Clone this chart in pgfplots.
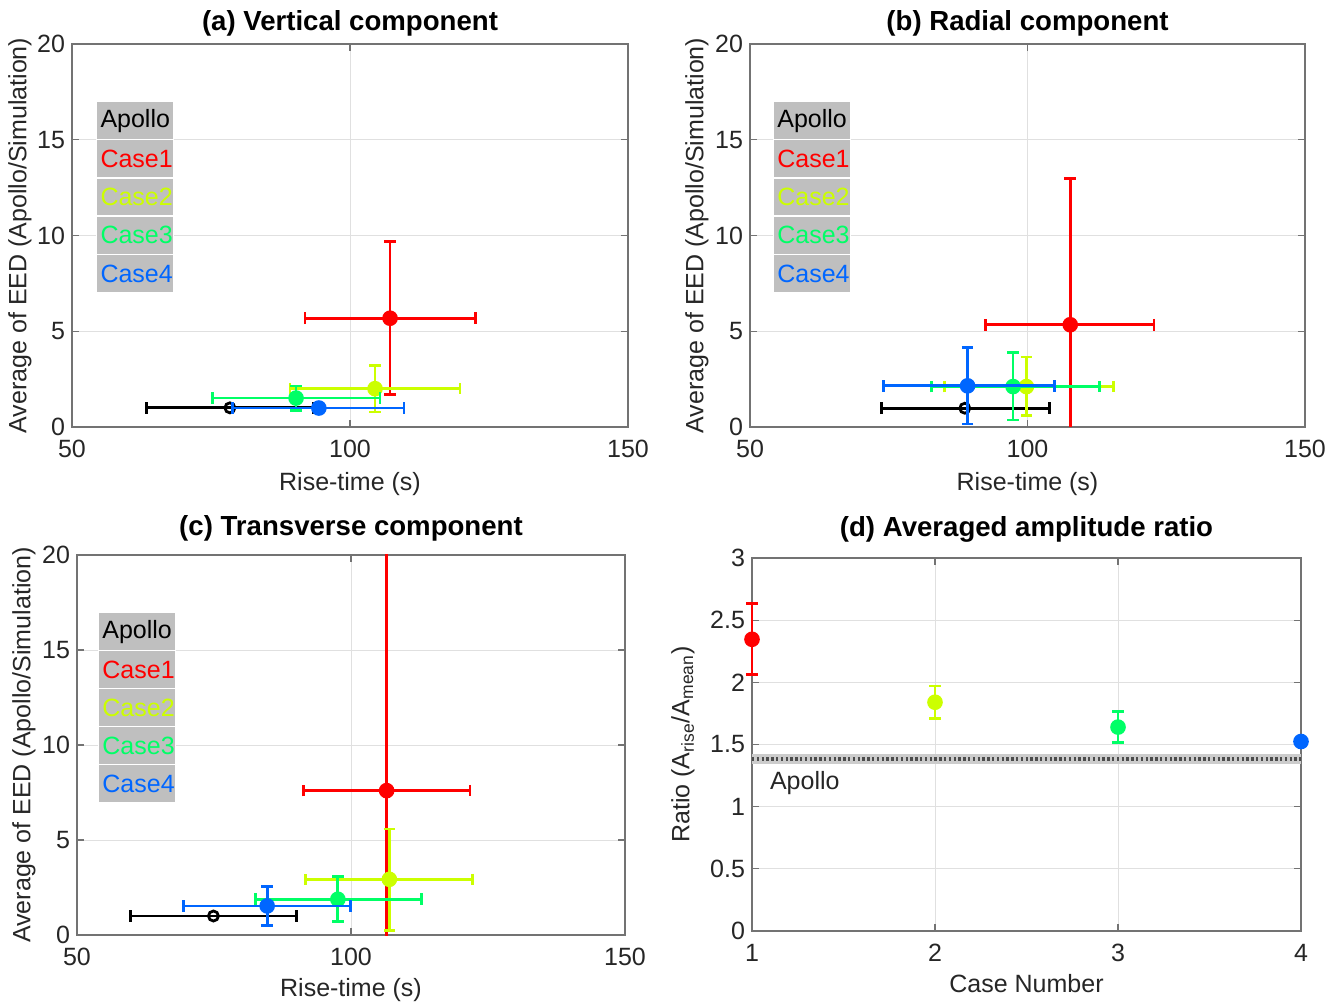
\documentclass[border=0pt]{standalone}
\usepackage{fontspec}
\setmainfont{Liberation Sans}
\usepackage{pgfplots}
\pgfplotsset{compat=1.18}
\definecolor{cA}{rgb}{0,0,0}
\definecolor{cB}{rgb}{1,0,0}
\definecolor{cC}{rgb}{0.8,1,0}
\definecolor{cD}{rgb}{0,1,0.4}
\definecolor{cE}{rgb}{0,0.4,1}
\definecolor{legbg}{rgb}{0.75,0.75,0.75}
\newcommand{\lf}{\fontsize{12.5}{15}\selectfont}
\pgfplotsset{
  mat/.style={
    scale only axis,
    axis line style={black!55, line width=0.6pt},
    tick style={black!55, line width=0.6pt},
    tick align=inside,
    major tick length=3.5pt,
    grid=major,
    grid style={black!12, line width=0.4pt},
    every tick label/.append style={font=\lf, text=black!85},
    xticklabel shift=3pt,
    label style={font=\lf, text=black!85},
    title style={font=\fontsize{13.8}{16}\selectfont\bfseries},
    /pgf/number format/assume math mode=true,
    clip marker paths=true,
  },
  eb/.style={
    color=#1, line width=1.4pt, only marks, mark=*, mark size=3.2pt,
    mark options={solid, fill=#1, draw=#1},
    error bars/x dir=both, error bars/y dir=both,
    error bars/x explicit, error bars/y explicit,
    error bars/error bar style={line width=1.4pt, color=#1},
    error bars/error mark options={rotate=90, line width=1.4pt, mark size=2.9pt, color=#1},
  },
  ap/.style={
    color=black, line width=1.4pt, only marks, mark=o, mark size=2.5pt,
    mark options={solid, draw=black, line width=1.4pt},
    error bars/x dir=both, error bars/y dir=none,
    error bars/x explicit,
    error bars/error bar style={line width=1.4pt, color=black},
    error bars/error mark options={rotate=90, line width=1.4pt, mark size=2.9pt, color=black},
  },
  rt/.style={
    mat, xmin=50, xmax=150, ymin=0, ymax=20,
    xtick={50,100,150}, ytick={0,5,10,15,20},
    xlabel={Rise-time (s)},
    ylabel={Average of EED (Apollo/Simulation)},
  },
}
\tikzset{leg/.style={anchor=north west, fill=legbg, draw=white, line width=0.6pt,
  text width=34.5pt, inner xsep=2pt, inner ysep=0pt, minimum height=19pt,
  align=left, font=\lf}}
\begin{document}
\begin{tikzpicture}
\useasboundingbox (0,0) rectangle (668pt,-502pt);
% (a)
\begin{axis}[rt, at={(36pt,-22pt)}, anchor=north west, width=278pt, height=191.5pt,
  title={(a) Vertical component},
  title style={at={(axis description cs:0.5,1)}, anchor=center, yshift=4.5pt},
  xlabel style={at={(axis description cs:0.5,-0.148)}, anchor=center},
  ylabel style={at={(axis description cs:-0.0935,0.5)}, anchor=center}]
\addplot[ap] coordinates {(78.4,1.0) +- (15,0)};
\addplot[eb=cB] coordinates {(107.2,5.68) += (15.3,4.01) -= (15.3,3.98)};
\addplot[eb=cC] coordinates {(104.5,2.0) += (15.3,1.21) -= (15.3,1.22)};
\addplot[eb=cD] coordinates {(90.3,1.51) += (15.1,0.63) -= (15.1,0.64)};
\addplot[eb=cE] coordinates {(94.4,0.99) += (15.3,0.15) -= (15.5,0.15)};
\node[leg, text=black] at (rel axis cs:0.043,0.851) {Apollo};
\node[leg, text=cB] at (rel axis cs:0.043,0.7513) {Case1};
\node[leg, text=cC] at (rel axis cs:0.043,0.6516) {Case2};
\node[leg, text=cD] at (rel axis cs:0.043,0.5519) {Case3};
\node[leg, text=cE] at (rel axis cs:0.043,0.4522) {Case4};
\end{axis}
% (b)
\begin{axis}[rt, at={(375pt,-22pt)}, anchor=north west, width=277.5pt, height=191.5pt,
  title={(b) Radial component},
  title style={at={(axis description cs:0.5,1)}, anchor=center, yshift=4.5pt},
  xlabel style={at={(axis description cs:0.5,-0.148)}, anchor=center},
  ylabel style={at={(axis description cs:-0.0955,0.5)}, anchor=center}]
\addplot[ap] coordinates {(88.7,0.98) += (15.3,0) -= (15.0,0)};
\addplot[eb=cB] coordinates {(107.7,5.34) += (15.1,7.63) -= (15.2,7.63)};
\addplot[eb=cC] coordinates {(99.8,2.11) += (15.7,1.55) -= (14.7,1.52)};
\addplot[eb=cD] coordinates {(97.4,2.11) += (15.6,1.80) -= (14.7,1.74)};
\addplot[eb=cE] coordinates {(89.2,2.15) += (15.7,2.0) -= (15.1,1.99)};
\node[leg, text=black] at (rel axis cs:0.041,0.851) {Apollo};
\node[leg, text=cB] at (rel axis cs:0.041,0.7513) {Case1};
\node[leg, text=cC] at (rel axis cs:0.041,0.6516) {Case2};
\node[leg, text=cD] at (rel axis cs:0.041,0.5519) {Case3};
\node[leg, text=cE] at (rel axis cs:0.041,0.4522) {Case4};
\end{axis}
% (c)
\begin{axis}[rt, at={(38.5pt,-277.5pt)}, anchor=north west, width=274pt, height=190pt,
  title={(c) Transverse component},
  title style={at={(axis description cs:0.5,1)}, anchor=center, yshift=7.5pt},
  xlabel style={at={(axis description cs:0.5,-0.146)}, anchor=center},
  ylabel style={at={(axis description cs:-0.0967,0.5)}, anchor=center}]
\addplot[ap] coordinates {(74.9,1.0) +- (15.2,0)};
\addplot[eb=cB] coordinates {(106.5,7.6) += (15.2,13.5) -= (15.1,13.5)};
\addplot[eb=cC] coordinates {(107.0,2.93) += (15.2,2.65) -= (15.3,2.70)};
\addplot[eb=cD] coordinates {(97.6,1.88) += (15.3,1.19) -= (15.1,1.19)};
\addplot[eb=cE] coordinates {(84.7,1.53) += (15.2,1.02) -= (15.3,1.02)};
\node[leg, text=black] at (rel axis cs:0.038,0.85) {Apollo};
\node[leg, text=cB] at (rel axis cs:0.038,0.75) {Case1};
\node[leg, text=cC] at (rel axis cs:0.038,0.65) {Case2};
\node[leg, text=cD] at (rel axis cs:0.038,0.55) {Case3};
\node[leg, text=cE] at (rel axis cs:0.038,0.45) {Case4};
\end{axis}
% (d)
\begin{axis}[mat, clip=false, clip marker paths=false,
  at={(376pt,-279pt)}, anchor=north west, width=274.5pt, height=186.5pt,
  xmin=1, xmax=4, ymin=0, ymax=3,
  xtick={1,2,3,4}, ytick={0,0.5,1,1.5,2,2.5,3},
  title={(d) Averaged amplitude ratio},
  title style={at={(axis description cs:0.5,1)}, anchor=center, yshift=8.5pt},
  xlabel={Case Number},
  ylabel={Ratio (A\textsubscript{rise}/A\textsubscript{mean})},
  xlabel style={at={(axis description cs:0.5,-0.14)}, anchor=center},
  ylabel style={at={(axis description cs:-0.1257,0.5)}, anchor=center}]
\addplot[draw=none, fill=black!20] coordinates {(1,1.34) (4,1.34) (4,1.427) (1,1.427)} -- cycle;
\addplot[black!70, line width=1.6pt, dash pattern=on 1.2pt off 1.2pt] coordinates {(1,1.384) (4,1.384)};
\addplot[eb=cB] coordinates {(1,2.346) += (0,0.29) -= (0,0.28)};
\addplot[eb=cC] coordinates {(2,1.84) += (0,0.13) -= (0,0.13)};
\addplot[eb=cD] coordinates {(3,1.64) += (0,0.125) -= (0,0.125)};
\addplot[eb=cE] coordinates {(4,1.524) +- (0,0)};
\node[anchor=west, font=\lf, text=black!85] at (axis cs:1.06,1.19) {Apollo};
\end{axis}
\end{tikzpicture}
\end{document}
